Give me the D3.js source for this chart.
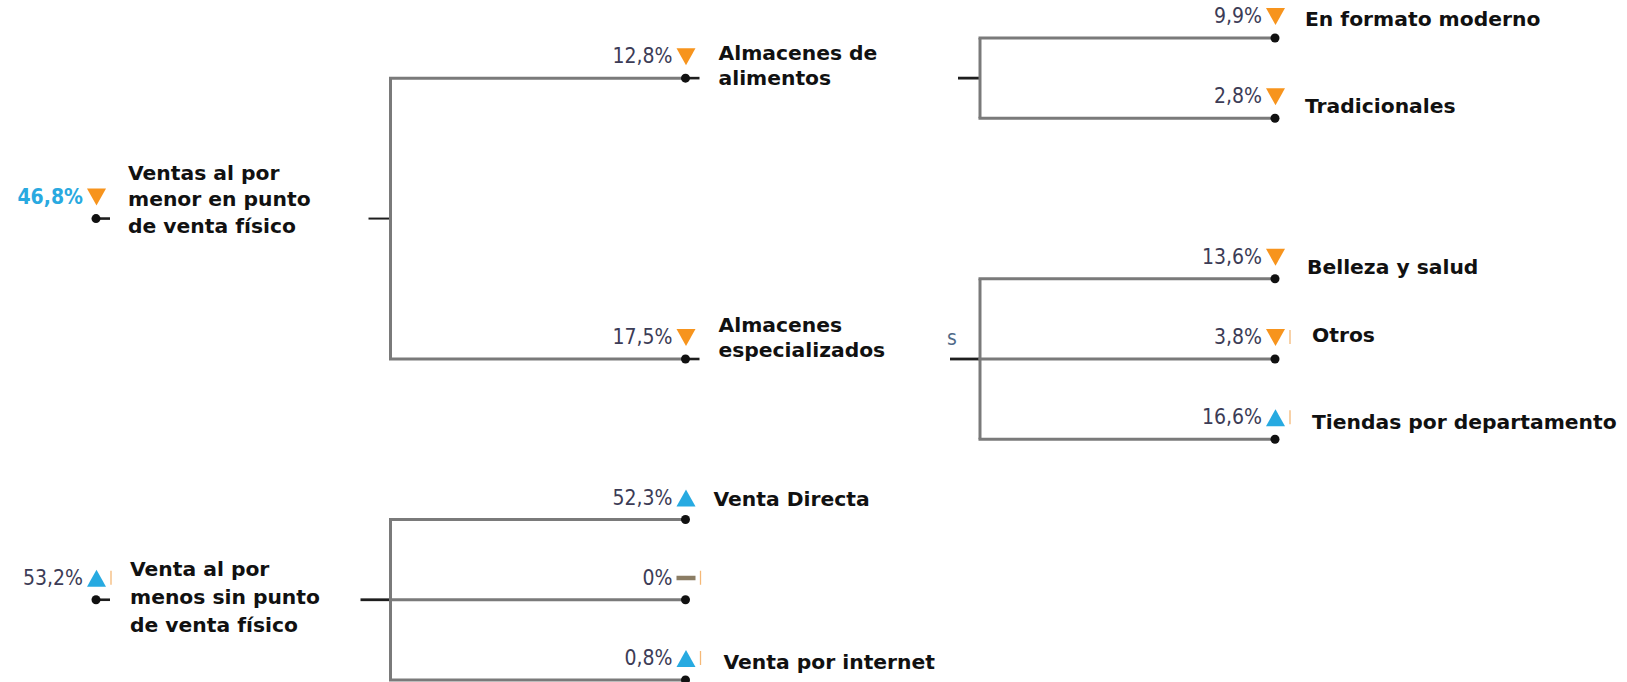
<!DOCTYPE html>
<html><head><meta charset="utf-8">
<script src="https://cdn.jsdelivr.net/npm/d3@7"></script>
<style>body{margin:0;background:#fff}svg{display:block}</style>
</head><body><svg id="c" width="1627" height="682"></svg>
<script>
// ---- data ----
const ids = ["fisico","alimentos","moderno","tradicionales","especializados","belleza","otros","tiendas","sinfisico","directa","sinnombre","internet"];
const parents = ["","fisico","alimentos","alimentos","fisico","especializados","especializados","especializados","","sinfisico","sinfisico","sinfisico"];
const labels = [
  ["Ventas al por","menor en punto","de venta físico"],
  ["Almacenes de","alimentos"],
  ["En formato moderno"],
  ["Tradicionales"],
  ["Almacenes","especializados"],
  ["Belleza y salud"],
  ["Otros"],
  ["Tiendas por departamento"],
  ["Venta al por","menos sin punto","de venta físico"],
  ["Venta Directa"],
  [],
  ["Venta por internet"]
];
const shares = [46.8,12.8,9.9,2.8,17.5,13.6,3.8,16.6,53.2,52.3,0,0.8];
const trends = ["down","down","down","down","down","down","down","up","up","up","flat","up"];
const rowOrder = ["moderno","tradicionales","gap","belleza","otros","tiendas","directa","sinnombre","internet"];
const depthLevels = [0,1,2];

// ---- layout / style (not data) ----
const labelLayout = {
  fisico:[32,-39,26.5], alimentos:[33,-18,25], moderno:[30,-12,0], tradicionales:[30,-5,0],
  especializados:[33,-27,25], belleza:[32,-5,0], otros:[37,-17,0], tiendas:[37,-10,0],
  sinfisico:[34,-24,28], directa:[28,-14,0], sinnombre:[30,0,0], internet:[38,-11,0]
};
const stubLen = {fisico:22, alimentos:22, especializados:30, sinfisico:30};
const tickAfter = new Set(["sinfisico","tiendas","otros","sinnombre","internet"]);
const ORANGE = "#f7941d", BLUE = "#27aae1";
const NUMFONT = "'DejaVu Sans Condensed','DejaVu Sans',sans-serif";

const svg = d3.select("#c");
const x = d3.scalePoint().domain(depthLevels).range([96,1275]);
const y = d3.scalePoint().domain(rowOrder).range([38,680]);
const fmt = d3.formatLocale({decimal:",",thousands:".",grouping:[3],currency:["",""]}).format(".1~f");

const table = [{id:"root",parentId:null}].concat(ids.map((id,i)=>({
  id, parentId: parents[i] || "root", lines: labels[i], value: shares[i], trend: trends[i]
})));
const root = d3.stratify().id(d=>d.id).parentId(d=>d.parentId)(table);
root.eachAfter(n=>{
  if(n.id==="root") return;
  n.lvl = n.depth-1;
  n.px = x(n.lvl);
  if(n.children){
    n.py = (n.children[0].py + n.children[n.children.length-1].py)/2;
  } else n.py = y(n.id);
});
const nodes = root.descendants().filter(n=>n.id!=="root");
const inner = nodes.filter(n=>n.children);

const gLines = svg.append("g");
inner.forEach(p=>{
  const cx = x(p.lvl+1);
  const vx = cx - 295;
  const ys = p.children.map(c=>c.py);
  gLines.append("line").attr("x1",p.px).attr("x2",p.px+14).attr("y1",p.py).attr("y2",p.py)
    .attr("stroke","#1e1e1e").attr("stroke-width",2.6);
  gLines.append("line").attr("x1",vx-stubLen[p.id]).attr("x2",vx).attr("y1",p.py).attr("y2",p.py)
    .attr("stroke","#1e1e1e").attr("stroke-width",p.id==="fisico"?2:2.8);
  gLines.append("line").attr("x1",vx).attr("x2",vx).attr("y1",d3.min(ys)).attr("y2",d3.max(ys))
    .attr("stroke","#7a7a7a").attr("stroke-width",3);
  p.children.forEach(c=>{
    gLines.append("line").attr("x1",vx-1.5).attr("x2",c.px).attr("y1",c.py).attr("y2",c.py)
      .attr("stroke","#7a7a7a").attr("stroke-width",3);
  });
  if(p.id==="especializados"){
    svg.append("text").attr("x",vx-33).attr("y",p.py-14).text("s")
      .attr("font-family",NUMFONT).attr("font-size",21)
      .attr("fill","#4f6a88");
  }
});

svg.append("g").selectAll("circle").data(nodes).join("circle")
  .attr("cx",d=>d.px).attr("cy",d=>d.py).attr("r",4.5).attr("fill","#111");

const gv = svg.append("g");
nodes.forEach(n=>{
  const isRoot1 = n.id==="fisico";
  gv.append("text").attr("x",n.px-13).attr("y",n.py-15).attr("text-anchor","end")
    .attr("font-family",NUMFONT)
    .attr("font-size",21).attr("font-weight",isRoot1?"bold":"normal")
    .attr("fill",isRoot1?"#29a9e0":"#3c3c56")
    .text(fmt(n.data.value)+"%");
  const cx = n.px+0.5;
  if(n.data.trend==="down"){
    gv.append("path").attr("d",`M${cx-9.5},${n.py-30}L${cx+9.5},${n.py-30}L${cx},${n.py-13}Z`).attr("fill",ORANGE);
  } else if(n.data.trend==="up"){
    gv.append("path").attr("d",`M${cx-9.5},${n.py-13}L${cx+9.5},${n.py-13}L${cx},${n.py-30}Z`).attr("fill",BLUE);
  } else {
    gv.append("rect").attr("x",cx-9.5).attr("y",n.py-24).attr("width",19).attr("height",4.5).attr("fill","#8b7d64");
  }
  if(tickAfter.has(n.id)){
    gv.append("line").attr("x1",n.px+15).attr("x2",n.px+15).attr("y1",n.py-29).attr("y2",n.py-15)
      .attr("stroke","#f5b877").attr("stroke-width",1.3);
  }
  const L = labelLayout[n.id];
  const t = gv.append("text").attr("font-family","'DejaVu Sans',sans-serif").attr("font-weight","bold")
    .attr("font-size",20.3).attr("fill","#111");
  n.data.lines.forEach((s,i)=>{
    t.append("tspan").attr("x",n.px+L[0]).attr("y",n.py+L[1]+i*L[2]).text(s);
  });
});
</script></body></html>
